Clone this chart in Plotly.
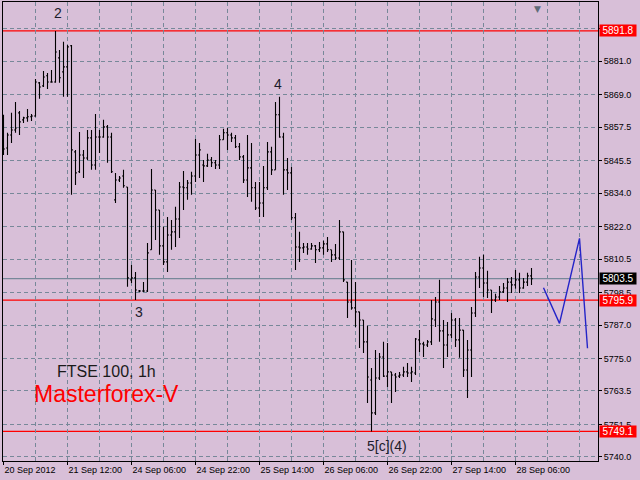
import plotly.graph_objects as go

# ---------------- data (FTSE 100, 1h bars) ----------------
bar_index = list(range(133))
open_ = [5849.4, 5850.1, 5854.7, 5856.5, 5862.6, 5860.1, 5860.8, 5861.2, 5861.5, 5873.3,
         5872.2, 5875.8, 5873.6, 5873.6, 5882.2, 5877.2, 5879.0, 5886.5, 5848.7, 5841.6,
         5847.6, 5846.5, 5853.7, 5844.0, 5854.0, 5854.0, 5857.6, 5854.0, 5831.6, 5838.7,
         5840.1, 5836.2, 5803.1, 5803.8, 5799.1, 5799.1, 5799.1, 5813.8, 5835.1, 5828.0,
         5815.2, 5809.5, 5819.1, 5820.2, 5824.8, 5836.2, 5835.9, 5837.6, 5840.1, 5847.6,
         5844.0, 5843.7, 5845.8, 5844.8, 5844.0, 5853.0, 5855.5, 5854.7, 5853.7, 5850.5,
         5846.9, 5838.7, 5843.0, 5835.9, 5828.7, 5830.5, 5835.9, 5848.7, 5842.3, 5861.9,
         5854.0, 5842.3, 5841.2, 5825.2, 5814.8, 5814.5, 5814.8, 5814.1, 5815.2, 5813.8,
         5814.5, 5815.9, 5813.8, 5812.0, 5810.9, 5820.2, 5802.3, 5795.2, 5793.1, 5791.7,
         5788.8, 5781.0, 5767.4, 5755.7, 5768.1, 5775.6, 5768.8, 5770.3, 5769.2, 5768.8,
         5769.2, 5770.3, 5769.9, 5769.9, 5781.7, 5780.3, 5779.9, 5781.0, 5788.8, 5795.2,
         5784.9, 5779.9, 5783.5, 5788.8, 5781.7, 5785.2, 5771.0, 5778.1, 5791.3, 5804.1,
         5807.3, 5802.0, 5799.5, 5795.9, 5797.0, 5798.8, 5800.2, 5802.3, 5801.3, 5803.1,
         5800.2, 5802.3, 5804.5]
high = [5861.9, 5855.5, 5862.6, 5866.5, 5863.3, 5861.2, 5864.0, 5862.2, 5874.7, 5873.6,
        5877.5, 5876.8, 5877.9, 5891.8, 5885.0, 5887.9, 5886.8, 5886.8, 5849.4, 5855.8,
        5849.4, 5856.5, 5856.5, 5862.2, 5856.5, 5860.1, 5858.3, 5855.5, 5841.2, 5840.1,
        5842.3, 5836.2, 5808.4, 5805.9, 5799.5, 5802.3, 5816.2, 5842.6, 5835.1, 5828.0,
        5822.0, 5825.5, 5824.4, 5829.1, 5838.0, 5841.9, 5838.7, 5841.6, 5853.3, 5851.9,
        5845.8, 5848.0, 5846.9, 5845.8, 5854.7, 5856.9, 5857.2, 5855.5, 5854.7, 5851.9,
        5847.6, 5854.7, 5851.9, 5838.0, 5838.0, 5843.7, 5852.2, 5850.5, 5866.5, 5868.3,
        5855.5, 5846.5, 5843.3, 5826.9, 5820.2, 5816.2, 5816.2, 5816.2, 5815.5, 5816.6,
        5817.0, 5818.4, 5813.8, 5815.9, 5824.4, 5820.2, 5802.3, 5810.2, 5802.3, 5791.7,
        5788.8, 5786.7, 5771.7, 5778.1, 5777.0, 5781.0, 5780.6, 5770.3, 5769.9, 5770.3,
        5772.1, 5773.5, 5772.1, 5782.4, 5785.2, 5781.0, 5781.7, 5795.9, 5797.0, 5803.1,
        5788.8, 5788.1, 5791.3, 5789.5, 5789.5, 5785.2, 5781.7, 5793.4, 5805.9, 5811.3,
        5812.0, 5806.3, 5799.5, 5798.1, 5800.9, 5802.0, 5803.8, 5804.1, 5806.6, 5805.6,
        5803.8, 5805.6, 5807.3]
low = [5847.6, 5847.6, 5851.9, 5855.5, 5854.7, 5859.0, 5859.4, 5859.7, 5861.2, 5867.6,
       5871.8, 5871.1, 5873.3, 5873.3, 5873.3, 5868.3, 5868.3, 5833.4, 5836.9, 5841.2,
       5839.4, 5845.8, 5842.3, 5842.3, 5848.3, 5853.7, 5844.8, 5841.2, 5830.5, 5838.0,
       5835.9, 5800.6, 5802.0, 5795.9, 5798.8, 5798.8, 5798.8, 5813.8, 5817.3, 5812.0,
       5808.4, 5805.9, 5813.8, 5814.8, 5818.0, 5828.0, 5831.6, 5833.4, 5838.0, 5839.4,
       5838.0, 5843.3, 5843.3, 5842.6, 5842.6, 5853.0, 5849.4, 5852.2, 5850.1, 5845.8,
       5837.6, 5832.6, 5830.9, 5828.0, 5825.5, 5825.5, 5835.1, 5840.5, 5842.3, 5853.7,
       5833.4, 5835.1, 5824.4, 5806.6, 5809.5, 5812.7, 5812.0, 5813.8, 5809.1, 5813.0,
       5812.0, 5813.0, 5809.5, 5810.2, 5810.2, 5802.3, 5789.5, 5792.4, 5786.3, 5778.8,
       5777.0, 5759.2, 5749.1, 5754.9, 5767.4, 5768.5, 5764.9, 5759.2, 5763.1, 5768.1,
       5768.5, 5768.5, 5766.7, 5769.2, 5777.4, 5775.6, 5779.2, 5779.9, 5786.3, 5781.0,
       5771.7, 5775.6, 5782.4, 5779.2, 5775.3, 5768.5, 5761.0, 5768.5, 5789.9, 5800.2,
       5797.0, 5796.6, 5791.3, 5795.2, 5795.9, 5798.4, 5795.2, 5798.4, 5799.9, 5798.4,
       5799.9, 5800.9, 5801.3]
close = [5849.7, 5854.7, 5856.5, 5857.2, 5859.4, 5860.8, 5861.2, 5861.5, 5873.6, 5871.8,
         5875.4, 5873.6, 5873.6, 5884.3, 5875.1, 5879.0, 5886.1, 5849.4, 5841.2, 5847.6,
         5846.5, 5853.7, 5844.0, 5854.0, 5854.0, 5857.6, 5854.0, 5841.6, 5838.7, 5839.4,
         5836.6, 5803.8, 5803.8, 5799.5, 5799.1, 5799.1, 5812.7, 5835.1, 5828.0, 5815.2,
         5809.5, 5819.1, 5820.2, 5824.8, 5836.2, 5835.9, 5837.6, 5840.1, 5847.6, 5849.4,
         5843.7, 5845.8, 5844.8, 5844.0, 5853.0, 5855.5, 5854.7, 5853.7, 5850.5, 5846.9,
         5838.7, 5843.0, 5835.9, 5828.7, 5830.5, 5835.9, 5848.7, 5842.3, 5861.9, 5854.0,
         5842.3, 5841.2, 5825.2, 5814.8, 5814.5, 5814.8, 5814.1, 5815.2, 5813.8, 5814.5,
         5815.9, 5813.8, 5812.0, 5810.9, 5820.2, 5803.1, 5795.2, 5793.1, 5791.7, 5788.8,
         5781.0, 5768.5, 5755.7, 5768.1, 5775.6, 5768.8, 5770.3, 5769.2, 5768.5, 5769.2,
         5770.3, 5769.9, 5770.3, 5782.0, 5780.3, 5779.9, 5781.0, 5789.2, 5795.2, 5784.9,
         5779.9, 5783.5, 5788.8, 5781.7, 5785.2, 5771.0, 5778.1, 5791.3, 5804.1, 5807.3,
         5802.0, 5799.5, 5795.9, 5797.0, 5798.8, 5800.2, 5802.3, 5801.3, 5803.1, 5800.2,
         5802.3, 5804.5, 5803.5]

# forecast zig-zag (blue)
proj_x = [135, 139, 144, 146]
proj_y = [5800.3, 5787.6, 5817.9, 5778.7]

# horizontal levels
level_prices = [5891.8, 5795.9, 5749.1]
level_labels = ["5891.8", "5795.9", "5749.1"]
bid_price = 5803.5
bid_label = "5803.5"

# axes
x_tick_idx = [0, 16, 32, 48, 64, 80, 96, 112, 128]
x_tick_text = ["20 Sep 2012", "21 Sep 12:00", "24 Sep 06:00", "24 Sep 22:00",
               "25 Sep 14:00", "26 Sep 06:00", "26 Sep 22:00", "27 Sep 14:00",
               "28 Sep 06:00"]
y_tick_vals = [5740.0, 5751.5, 5763.5, 5775.0, 5787.0, 5798.5, 5810.5, 5822.0,
               5834.0, 5845.5, 5857.5, 5869.0, 5881.0, 5892.5]
y_tick_text = ["5740.0", "5751.5", "5763.5", "5775.0", "5787.0", "5798.5", "5810.5",
               "5822.0", "5834.0", "5845.5", "5857.5", "5869.0", "5881.0", ""]

# wave labels
wave_text = ["2", "4", "3", "5[c](4)"]
wave_x = [13.7, 68.7, 33.75, 95.9]
wave_y = [5898.2, 5872.9, 5791.6, 5743.9]

BG = "#d8bfd8"
GRID = "#778899"
FONT = "Liberation Sans"

fig = go.Figure()
fig.add_trace(go.Ohlc(
    x=bar_index, open=open_, high=high, low=low, close=close,
    increasing=dict(line=dict(color="black", width=1.1)),
    decreasing=dict(line=dict(color="black", width=1.1)),
    tickwidth=0.35, showlegend=False, hoverinfo="skip"))
fig.add_trace(go.Scatter(
    x=proj_x, y=proj_y, mode="lines",
    line=dict(color="#2424c8", width=1.4),
    showlegend=False, hoverinfo="skip"))

for p in level_prices:
    fig.add_shape(type="line", xref="paper", x0=0, x1=1, yref="y", y0=p, y1=p,
                  line=dict(color="#ff0000", width=1.2), layer="between")
fig.add_shape(type="line", xref="paper", x0=0, x1=1, yref="y", y0=bid_price, y1=bid_price,
              line=dict(color=GRID, width=1.2), layer="between")

# price boxes on the right
for p, t in zip(level_prices, level_labels):
    fig.add_annotation(x=1, xref="paper", xanchor="left", xshift=1, y=p, yref="y",
                       yanchor="middle", text=t, showarrow=False, bgcolor="#ff0000",
                       font=dict(color="white", size=10, family=FONT),
                       width=34, height=9, borderpad=1)
fig.add_annotation(x=1, xref="paper", xanchor="left", xshift=1, y=bid_price, yref="y",
                   yanchor="middle", text=bid_label, showarrow=False, bgcolor="black",
                   font=dict(color="white", size=10, family=FONT),
                   width=34, height=9, borderpad=1)

for t, xx, yy in zip(wave_text, wave_x, wave_y):
    fig.add_annotation(x=xx, y=yy, xref="x", yref="y", text=t, showarrow=False,
                       xanchor="center", yanchor="middle",
                       font=dict(color="#1c1c2c", size=14, family=FONT))

fig.add_annotation(x=0.174, y=0.196, xref="paper", yref="paper", text="FTSE 100, 1h",
                   xanchor="center", yanchor="middle",
                   showarrow=False, font=dict(color="#1a1a1a", size=16, family=FONT))
fig.add_annotation(x=0.174, y=0.146, xref="paper", yref="paper", text="Masterforex-V",
                   xanchor="center", yanchor="middle",
                   showarrow=False, font=dict(color="#ff0000", size=23, family=FONT))
# chart-shift marker at the top
fig.add_annotation(x=133.4, y=1, xref="x", yref="paper", yanchor="top", text="▼",
                   showarrow=False, font=dict(color="#5f6b78", size=9, family="DejaVu Sans"))

fig.update_layout(
    width=640, height=480,
    margin=dict(l=3, r=42, t=2, b=19),
    paper_bgcolor=BG, plot_bgcolor=BG,
    showlegend=False,
    xaxis=dict(
        range=[-0.125, 148.625], tickmode="array", tickvals=x_tick_idx, ticktext=x_tick_text,
        ticks="outside", ticklen=3, tickcolor="black", ticklabelposition="outside right",
        tickfont=dict(size=9, color="black", family=FONT),
        showgrid=True, gridcolor=GRID, griddash="4px,3px", gridwidth=1,
        minor=dict(tickmode="linear", tick0=0, dtick=8, showgrid=True, gridcolor=GRID,
                   griddash="4px,3px", gridwidth=1, ticks=""),
        showline=True, linecolor="black", linewidth=1, mirror=True, zeroline=False,
        rangeslider=dict(visible=False), fixedrange=True),
    yaxis=dict(
        side="right", range=[5738.55, 5902.1], tickmode="array",
        tickvals=y_tick_vals, ticktext=y_tick_text,
        ticks="outside", ticklen=3, tickcolor="black",
        tickfont=dict(size=9, color="black", family=FONT),
        showgrid=True, gridcolor=GRID, griddash="4px,3px", gridwidth=1,
        showline=True, linecolor="black", linewidth=1, mirror=True, zeroline=False,
        fixedrange=True),
)

fig.write_html("out.html", config={"displayModeBar": False},
               post_script="document.body.style.margin='0';document.body.style.background='%s';" % BG)
